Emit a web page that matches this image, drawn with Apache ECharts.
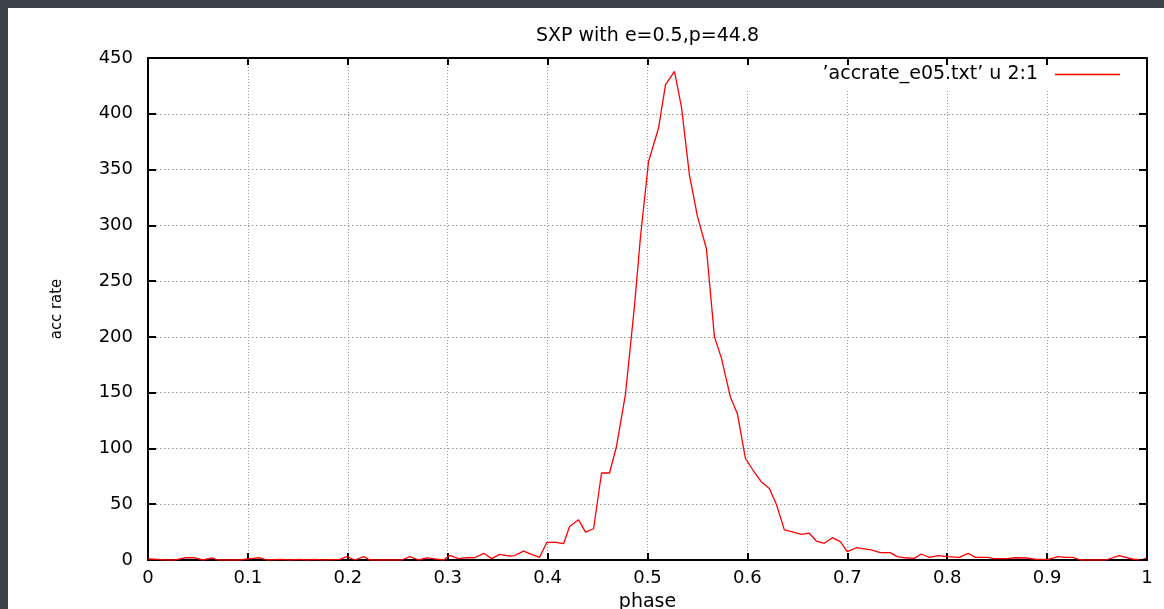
<!DOCTYPE html>
<html>
<head>
<meta charset="utf-8">
<script src="https://cdn.jsdelivr.net/npm/echarts@6/dist/echarts.min.js"></script>
<style>
  html, body { margin: 0; padding: 0; background: #3b4347; width: 1164px; height: 609px; overflow: hidden; }
  #chart { position: absolute; left: 8px; top: 8px; width: 1156px; height: 601px; background: #ffffff; }
</style>
</head>
<body>
<div id="chart"></div>
<script>
// ---- data ----
const titleText = 'SXP with e=0.5,p=44.8';
const seriesName = '\u2019accrate_e05.txt\u2019 u 2:1';
const xAxisName = 'phase';
const yAxisName = 'acc rate';

const phase = [
  0.000, 0.009, 0.017, 0.027, 0.037, 0.047, 0.055, 0.064, 0.070, 0.092,
  0.100, 0.112, 0.119, 0.134, 0.142, 0.152, 0.159, 0.167, 0.175, 0.192,
  0.199, 0.207, 0.216, 0.222, 0.254, 0.262, 0.271, 0.279, 0.287, 0.296,
  0.302, 0.311, 0.319, 0.327, 0.336, 0.344, 0.352, 0.361, 0.367, 0.376,
  0.384, 0.392, 0.399, 0.407, 0.416, 0.422, 0.431, 0.438, 0.446, 0.454,
  0.462, 0.469, 0.478, 0.487, 0.493, 0.501, 0.511, 0.518, 0.527, 0.534,
  0.542, 0.550, 0.559, 0.567, 0.574, 0.583, 0.590, 0.598, 0.606, 0.614,
  0.622, 0.629, 0.637, 0.646, 0.654, 0.662, 0.669, 0.677, 0.685, 0.693,
  0.700, 0.709, 0.717, 0.724, 0.733, 0.743, 0.750, 0.758, 0.767, 0.774,
  0.782, 0.791, 0.800, 0.812, 0.821, 0.828, 0.840, 0.847, 0.860, 0.868,
  0.879, 0.889, 0.901, 0.911, 0.918, 0.926, 0.933, 0.959, 0.972, 0.985,
  0.994, 1.000
];
const accRate = [
  1, 0.5, 0, 0, 2, 2, 0, 2, 0, 0,
  1, 2, 0, 0.6, 0, 0.6, 0, 0.6, 0, 0.5,
  3, 0, 3, 0, 0, 3, 0, 2, 1, 0,
  4.2, 1.2, 2, 2, 6, 1.2, 5, 3.6, 4, 8,
  5, 2.4, 15.5, 16, 14.6, 30, 36, 25, 28, 78,
  78, 102, 149, 228, 290, 357, 387, 426, 438, 406,
  345, 308, 279, 200, 181, 146, 131, 91, 80, 70,
  64, 50, 27, 25, 23, 24, 17, 15, 20, 16.4,
  7.5, 11, 10, 9, 6.6, 6.6, 3, 2, 1.5, 5.4,
  2.4, 3.9, 3, 2.4, 6, 2.4, 2.4, 1.2, 1.2, 2,
  1.8, 0.5, 0.6, 3, 2.4, 2.4, 0, 0, 3.9, 0.9,
  0, 2
];

const xMin = 0, xMax = 1, xStep = 0.1;
const yMin = 0, yMax = 450, yStep = 50;

// ---- chart ----
const FONT = 'DejaVu Sans';
const chart = echarts.init(document.getElementById('chart'), null, { renderer: 'canvas' });
const pairs = phase.map((p, i) => [p, accRate[i]]);

const frameLine = { show: true, onZero: false, lineStyle: { color: '#000', width: 2 } };
const gridDotV = { show: true, lineStyle: { color: '#969696', width: 1, type: [1, 2] } };
const gridDotH = { show: true, lineStyle: { color: '#969696', width: 1, type: [1.5, 2.5] } };

chart.setOption({
  animation: false,
  backgroundColor: '#ffffff',
  title: {
    text: titleText,
    left: 639.5,
    textAlign: 'center',
    top: 19,
    padding: 0,
    textStyle: { fontFamily: FONT, fontSize: 19, fontWeight: 'normal', color: '#000' }
  },
  legend: {
    data: [{ name: seriesName, icon: 'rect' }],
    right: 17,
    top: 52,
    align: 'right',
    orient: 'horizontal',
    itemWidth: 65,
    itemHeight: 1.3,
    padding: [5, 27, 5, 130],
    backgroundColor: '#ffffff',
    z: 4,
    textStyle: { fontFamily: FONT, fontSize: 19, color: '#000', padding: [0, 12, 0, 0] }
  },
  grid: { left: 140, top: 50, right: 17, bottom: 49, containLabel: false, outerBoundsMode: 'none' },
  xAxis: [
    {
      type: 'value', min: xMin, max: xMax, interval: xStep, position: 'bottom',
      name: xAxisName, nameLocation: 'middle', nameGap: 33,
      nameTextStyle: { fontFamily: FONT, fontSize: 19, color: '#000' },
      axisLine: frameLine,
      axisTick: { show: true, inside: true, length: 7, lineStyle: { color: '#000', width: 2 } },
      axisLabel: { show: true, margin: 9, fontFamily: FONT, fontSize: 18, color: '#000' },
      splitLine: gridDotV,
      z: 0
    },
    {
      type: 'value', min: xMin, max: xMax, interval: xStep, position: 'top',
      axisLine: frameLine,
      axisTick: { show: true, inside: true, length: 7, lineStyle: { color: '#000', width: 2 } },
      axisLabel: { show: false },
      splitLine: { show: false },
      z: 6
    }
  ],
  yAxis: [
    {
      type: 'value', min: yMin, max: yMax, interval: yStep, position: 'left',
      name: yAxisName, nameLocation: 'middle', nameGap: 83, nameRotate: 90,
      nameTextStyle: { fontFamily: '"DejaVu Sans Condensed", sans-serif', fontSize: 16.5, color: '#000' },
      axisLine: frameLine,
      axisTick: { show: true, inside: true, length: 8, lineStyle: { color: '#000', width: 2 } },
      axisLabel: { show: true, margin: 15, fontFamily: FONT, fontSize: 18, color: '#000' },
      splitLine: gridDotH,
      z: 0
    },
    {
      type: 'value', min: yMin, max: yMax, interval: yStep, position: 'right',
      axisLine: frameLine,
      axisTick: { show: true, inside: true, length: 8, lineStyle: { color: '#000', width: 2 } },
      axisLabel: { show: false },
      splitLine: { show: false },
      z: 6
    }
  ],
  series: [
    {
      name: seriesName,
      type: 'line',
      xAxisIndex: 0,
      yAxisIndex: 0,
      data: pairs,
      symbol: 'none',
      showSymbol: false,
      smooth: false,
      lineStyle: { color: '#ff0000', width: 1.3 },
      itemStyle: { color: '#ff0000' },
      z: 3
    }
  ]
});
</script>
</body>
</html>
